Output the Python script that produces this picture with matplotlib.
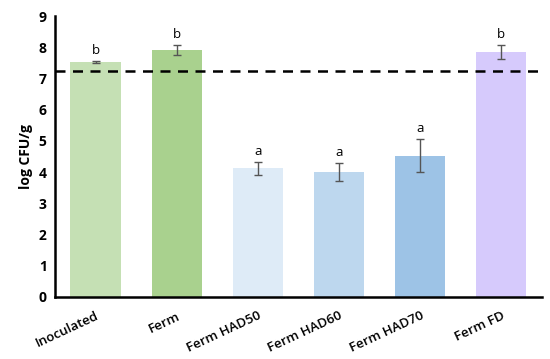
import matplotlib.pyplot as plt
import numpy as np

categories = ["Inoculated", "Ferm", "Ferm HAD50", "Ferm HAD60", "Ferm HAD70", "Ferm FD"]
values = [7.52, 7.92, 4.12, 4.01, 4.53, 7.85]
errors = [0.03, 0.16, 0.21, 0.28, 0.53, 0.21]
letters = ["b", "b", "a", "a", "a", "b"]
colors = ["#c5e0b4", "#a9d18e", "#deebf7", "#bdd7ee", "#9dc3e6", "#d6cafc"]
threshold = 7.23

plt.rcParams["font.family"] = ["Open Sans", "DejaVu Sans"]

fig = plt.figure(figsize=(5.5, 3.59), dpi=100)
ax = fig.add_axes([0.1, 0.173, 0.885, 0.782])

x = np.arange(len(categories))
ax.bar(x, values, width=0.62, color=colors, zorder=1)
ax.errorbar(x, values, yerr=errors, fmt="none", ecolor="#555555",
            elinewidth=1, capsize=3, capthick=1, zorder=3)

# significance letters above error bars
for xi, v, e, lt in zip(x, values, errors, letters):
    ax.annotate(lt, xy=(xi, v + e), xytext=(0, 3), textcoords="offset points",
                ha="center", va="bottom", fontsize=9.5)

ax.axhline(threshold, color="black", linestyle=(0, (4, 3)), lw=1.8, zorder=2)

ax.set_xlim(-0.5, 5.5)
ax.set_ylim(0, 9)
ax.set_yticks(range(0, 10))
ax.set_yticklabels([str(i) for i in range(0, 10)], fontweight="bold", fontsize=10)
ax.set_xticks(x)
ax.set_xticklabels(categories, rotation=25, ha="right", rotation_mode="anchor",
                   fontsize=9.5, fontweight="semibold")
ax.tick_params(axis="y", length=0, pad=6)
ax.tick_params(axis="x", length=0, pad=9)
ax.set_ylabel("log CFU/g", fontweight="bold", fontsize=10)

for side in ["top", "right"]:
    ax.spines[side].set_visible(False)
ax.spines["left"].set_linewidth(1.8)
ax.spines["bottom"].set_linewidth(1.8)

fig.savefig("out.png", dpi=100)
